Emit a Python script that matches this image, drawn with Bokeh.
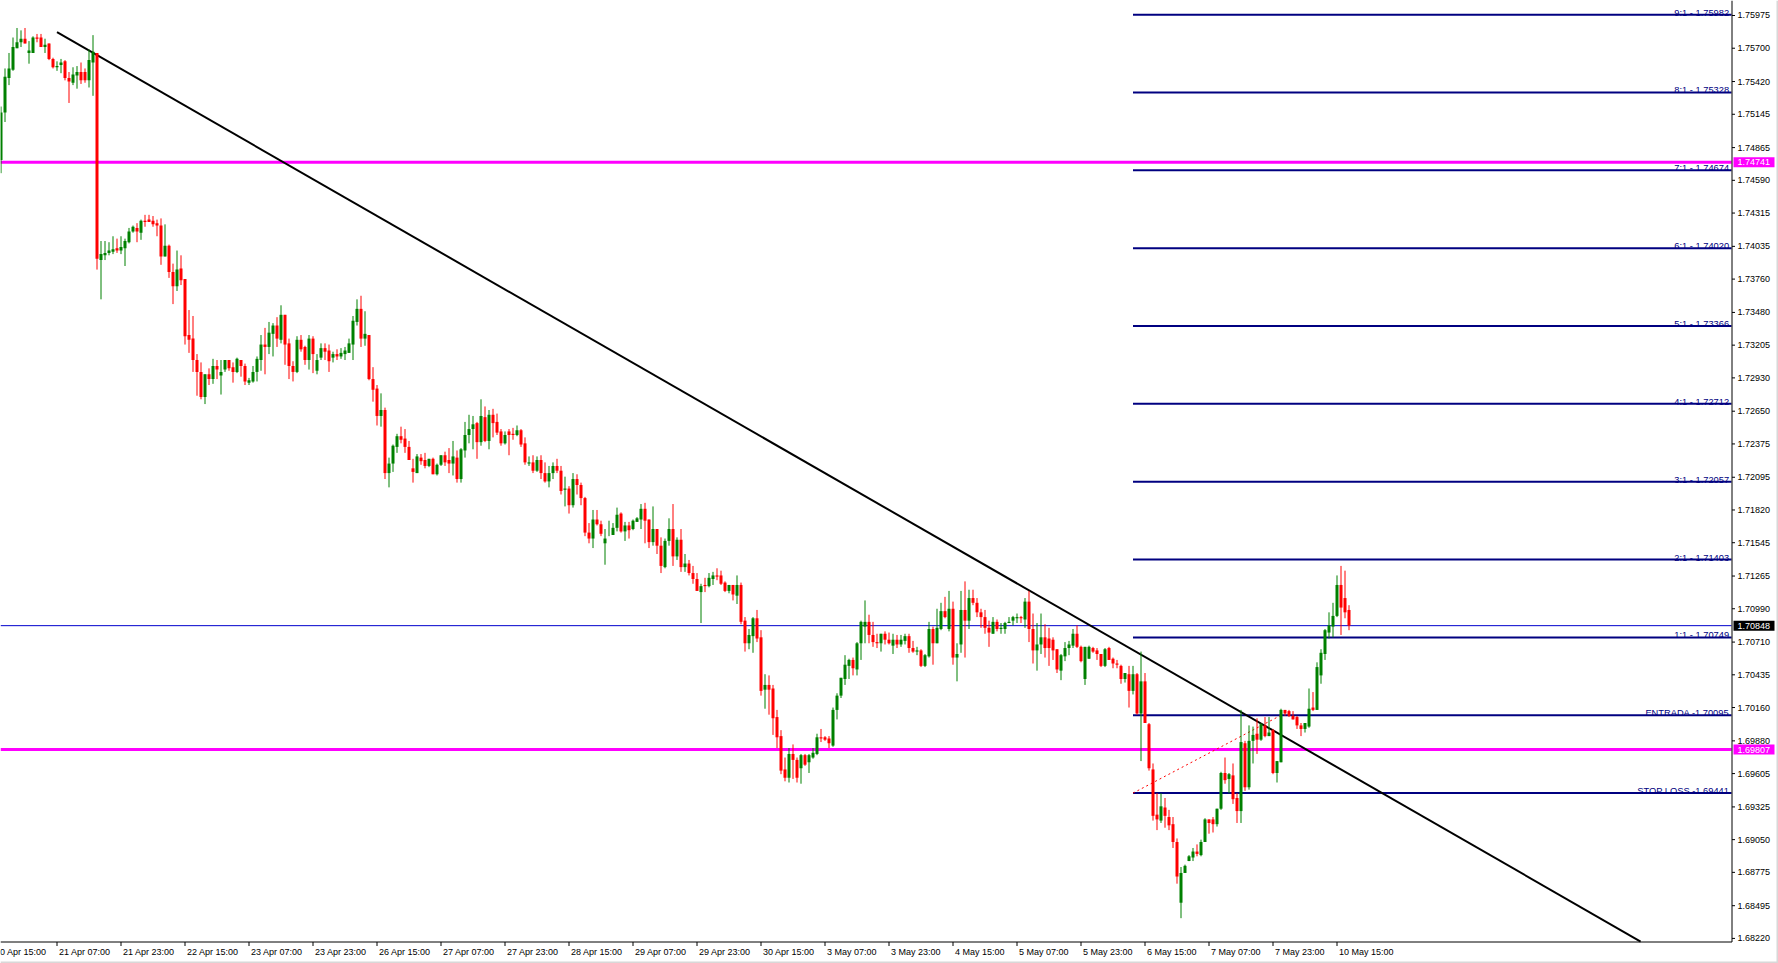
from bokeh.plotting import figure
from bokeh.models import Range1d, ColumnDataSource
from bokeh.embed import file_html
from bokeh.resources import INLINE
from bokeh.core.properties import value

# ---------------- data (H1 candles, first bar = 20 Apr 17:00) ----------------
opens = [
1.7476,1.7516,1.7545,1.7552,1.7570,1.7575,1.7578,1.7566,1.7566,1.7579,
1.7579,1.7571,1.7574,1.7561,1.7554,1.7556,1.7559,1.7545,1.7541,1.7547,
1.7550,1.7550,1.7543,1.7558,1.7566,1.7392,1.7396,1.7398,1.7399,1.7402,
1.7400,1.7402,1.7407,1.7416,1.7419,1.7415,1.7425,1.7426,1.7425,1.7423,
1.7421,1.7395,1.7404,1.7382,1.7370,1.7385,1.7376,1.7329,1.7326,1.7308,
1.7298,1.7277,1.7296,1.7292,1.7303,1.7295,1.7300,1.7308,1.7302,1.7298,
1.7308,1.7303,1.7289,1.7290,1.7298,1.7308,1.7321,1.7319,1.7330,1.7337,
1.7325,1.7346,1.7322,1.7303,1.7298,1.7325,1.7319,1.7308,1.7326,1.7299,
1.7310,1.7318,1.7316,1.7310,1.7313,1.7311,1.7313,1.7314,1.7321,1.7340,
1.7351,1.7326,1.7329,1.7292,1.7284,1.7261,1.7266,1.7213,1.7221,1.7235,
1.7244,1.7242,1.7235,1.7217,1.7213,1.7226,1.7224,1.7219,1.7225,1.7212,
1.7220,1.7228,1.7224,1.7221,1.7226,1.7208,1.7232,1.7245,1.7250,1.7255,
1.7239,1.7260,1.7240,1.7262,1.7256,1.7248,1.7238,1.7248,1.7246,1.7245,
1.7249,1.7238,1.7221,1.7222,1.7215,1.7224,1.7213,1.7206,1.7213,1.7219,
1.7215,1.7199,1.7200,1.7186,1.7208,1.7203,1.7192,1.7163,1.7158,1.7174,
1.7170,1.7154,1.7161,1.7161,1.7167,1.7179,1.7164,1.7169,1.7166,1.7172,
1.7174,1.7183,1.7174,1.7155,1.7166,1.7152,1.7134,1.7156,1.7166,1.7143,
1.7157,1.7134,1.7137,1.7129,1.7124,1.7113,1.7119,1.7118,1.7124,1.7127,
1.7127,1.7121,1.7114,1.7119,1.7110,1.7119,1.7089,1.7070,1.7076,1.7091,
1.7075,1.7031,1.7035,1.7032,1.7008,1.6992,1.6964,1.6957,1.6977,1.6972,
1.6965,1.6976,1.6970,1.6974,1.6977,1.6991,1.6991,1.6990,1.6984,1.7014,
1.7026,1.7040,1.7051,1.7056,1.7048,1.7070,1.7084,1.7088,1.7077,1.7071,
1.7070,1.7078,1.7073,1.7068,1.7073,1.7069,1.7072,1.7076,1.7066,1.7063,
1.7064,1.7051,1.7059,1.7082,1.7070,1.7082,1.7097,1.7082,1.7099,1.7058,
1.7069,1.7098,1.7089,1.7108,1.7104,1.7096,1.7092,1.7083,1.7078,1.7088,
1.7082,1.7082,1.7087,1.7089,1.7091,1.7092,1.7090,1.7105,1.7082,1.7064,
1.7069,1.7075,1.7074,1.7073,1.7065,1.7047,1.7059,1.7066,1.7068,1.7078,
1.7067,1.7040,1.7057,1.7066,1.7064,1.7061,1.7051,1.7066,1.7057,1.7053,
1.7051,1.7040,1.7044,1.7030,1.7044,1.7011,1.7038,1.7002,1.6964,1.6926,
1.6921,1.6932,1.6924,1.6918,1.6903,1.6852,1.6877,1.6887,1.6890,1.6895,
1.6892,1.6903,1.6922,1.6922,1.6918,1.6931,1.6961,1.6956,1.6959,1.6940,
1.6929,1.6986,1.6949,1.6988,1.6994,1.6989,1.7001,1.6992,1.6997,1.6961,
1.6970,1.7014,1.7013,1.7009,1.7008,1.7001,1.6998,1.7000,1.7016,1.7014,
1.7043,1.7061,1.7079,1.7084,1.7093,1.7119,1.7108,1.7098]

highs = [
1.7521,1.7553,1.7566,1.7579,1.7587,1.7585,1.7587,1.7576,1.7580,1.7582,
1.7582,1.7578,1.7574,1.7562,1.7559,1.7561,1.7560,1.7550,1.7554,1.7555,
1.7558,1.7553,1.7569,1.7581,1.7566,1.7408,1.7408,1.7407,1.7412,1.7410,
1.7412,1.7410,1.7419,1.7421,1.7423,1.7426,1.7430,1.7430,1.7429,1.7426,
1.7427,1.7422,1.7405,1.7389,1.7400,1.7396,1.7376,1.7350,1.7345,1.7313,
1.7306,1.7296,1.7301,1.7309,1.7308,1.7308,1.7308,1.7308,1.7306,1.7310,
1.7308,1.7305,1.7293,1.7303,1.7311,1.7329,1.7335,1.7340,1.7339,1.7344,
1.7354,1.7346,1.7326,1.7307,1.7328,1.7329,1.7320,1.7329,1.7328,1.7313,
1.7322,1.7322,1.7321,1.7315,1.7317,1.7318,1.7319,1.7326,1.7345,1.7359,
1.7362,1.7349,1.7329,1.7302,1.7287,1.7280,1.7268,1.7226,1.7237,1.7246,
1.7252,1.7250,1.7240,1.7225,1.7229,1.7229,1.7230,1.7225,1.7226,1.7221,
1.7228,1.7231,1.7234,1.7240,1.7232,1.7234,1.7256,1.7262,1.7261,1.7256,
1.7275,1.7269,1.7266,1.7267,1.7263,1.7250,1.7248,1.7250,1.7251,1.7253,
1.7250,1.7243,1.7227,1.7228,1.7227,1.7228,1.7222,1.7219,1.7222,1.7225,
1.7219,1.7210,1.7202,1.7213,1.7212,1.7205,1.7193,1.7171,1.7182,1.7182,
1.7173,1.7166,1.7173,1.7171,1.7184,1.7180,1.7172,1.7172,1.7174,1.7176,
1.7187,1.7188,1.7174,1.7185,1.7166,1.7159,1.7158,1.7175,1.7187,1.7159,
1.7166,1.7145,1.7140,1.7135,1.7129,1.7120,1.7125,1.7129,1.7130,1.7133,
1.7131,1.7122,1.7119,1.7119,1.7127,1.7121,1.7092,1.7082,1.7092,1.7098,
1.7081,1.7044,1.7043,1.7035,1.7014,1.6997,1.6974,1.6982,1.6985,1.6974,
1.6977,1.6977,1.6977,1.6982,1.6994,1.6998,1.6992,1.6992,1.7016,1.7028,
1.7041,1.7060,1.7057,1.7058,1.7071,1.7089,1.7106,1.7094,1.7088,1.7078,
1.7078,1.7080,1.7079,1.7078,1.7077,1.7077,1.7078,1.7078,1.7072,1.7067,
1.7065,1.7061,1.7088,1.7084,1.7099,1.7104,1.7109,1.7114,1.7105,1.7070,
1.7114,1.7122,1.7115,1.7115,1.7108,1.7099,1.7098,1.7089,1.7092,1.7090,
1.7087,1.7088,1.7092,1.7093,1.7095,1.7093,1.7108,1.7114,1.7095,1.7087,
1.7095,1.7086,1.7083,1.7075,1.7065,1.7061,1.7071,1.7072,1.7082,1.7085,
1.7068,1.7067,1.7068,1.7067,1.7066,1.7061,1.7066,1.7067,1.7058,1.7056,
1.7052,1.7045,1.7051,1.7051,1.7045,1.7063,1.7045,1.7003,1.6969,1.6944,
1.6944,1.6940,1.6930,1.6924,1.6906,1.6882,1.6884,1.6892,1.6898,1.6901,
1.6905,1.6923,1.6922,1.6924,1.6931,1.6962,1.6974,1.6961,1.6969,1.6944,
1.7014,1.6988,1.7001,1.7000,1.7007,1.7003,1.7008,1.7008,1.6998,1.6971,
1.7015,1.7014,1.7014,1.7013,1.7009,1.7003,1.7003,1.7032,1.7029,1.7054,
1.7065,1.7082,1.7096,1.7104,1.7127,1.7135,1.7131,1.7102]

lows = [
1.7465,1.7508,1.7539,1.7551,1.7570,1.7571,1.7574,1.7557,1.7566,1.7575,
1.7571,1.7566,1.7560,1.7553,1.7551,1.7549,1.7543,1.7524,1.7539,1.7536,
1.7540,1.7541,1.7537,1.7530,1.7384,1.7359,1.7392,1.7396,1.7397,1.7398,
1.7397,1.7387,1.7406,1.7415,1.7407,1.7409,1.7420,1.7424,1.7420,1.7412,
1.7388,1.7395,1.7377,1.7355,1.7366,1.7371,1.7321,1.7314,1.7298,1.7278,
1.7275,1.7271,1.7287,1.7288,1.7292,1.7279,1.7298,1.7299,1.7289,1.7297,
1.7294,1.7287,1.7287,1.7289,1.7290,1.7299,1.7296,1.7313,1.7311,1.7319,
1.7322,1.7304,1.7292,1.7290,1.7297,1.7315,1.7304,1.7300,1.7297,1.7296,
1.7308,1.7308,1.7298,1.7306,1.7308,1.7309,1.7308,1.7314,1.7308,1.7337,
1.7319,1.7320,1.7291,1.7273,1.7253,1.7252,1.7208,1.7201,1.7214,1.7230,
1.7238,1.7230,1.7224,1.7205,1.7213,1.7220,1.7217,1.7218,1.7212,1.7211,
1.7219,1.7219,1.7213,1.7211,1.7205,1.7205,1.7226,1.7238,1.7233,1.7225,
1.7236,1.7239,1.7233,1.7243,1.7245,1.7236,1.7237,1.7228,1.7241,1.7244,
1.7235,1.7220,1.7219,1.7213,1.7214,1.7208,1.7205,1.7201,1.7208,1.7213,
1.7195,1.7185,1.7179,1.7184,1.7195,1.7186,1.7160,1.7154,1.7150,1.7169,
1.7160,1.7136,1.7160,1.7161,1.7164,1.7163,1.7156,1.7158,1.7165,1.7172,
1.7166,1.7154,1.7150,1.7152,1.7145,1.7129,1.7133,1.7152,1.7135,1.7140,
1.7130,1.7130,1.7127,1.7120,1.7114,1.7087,1.7113,1.7117,1.7119,1.7123,
1.7119,1.7113,1.7112,1.7106,1.7103,1.7086,1.7063,1.7065,1.7062,1.7071,
1.7026,1.7015,1.7010,1.6993,1.6982,1.6960,1.6954,1.6953,1.6956,1.6953,
1.6952,1.6967,1.6961,1.6973,1.6976,1.6987,1.6988,1.6982,1.6983,1.7006,
1.7024,1.7035,1.7040,1.7043,1.7043,1.7056,1.7070,1.7070,1.7067,1.7066,
1.7063,1.7069,1.7069,1.7061,1.7066,1.7067,1.7069,1.7062,1.7062,1.7060,
1.7050,1.7050,1.7058,1.7052,1.7070,1.7081,1.7091,1.7080,1.7052,1.7038,
1.7062,1.7058,1.7082,1.7102,1.7092,1.7083,1.7078,1.7067,1.7078,1.7080,
1.7078,1.7078,1.7087,1.7085,1.7087,1.7087,1.7083,1.7071,1.7053,1.7047,
1.7061,1.7058,1.7051,1.7056,1.7045,1.7039,1.7055,1.7060,1.7066,1.7066,
1.7054,1.7035,1.7057,1.7062,1.7056,1.7050,1.7050,1.7056,1.7049,1.7049,
1.7036,1.7037,1.7016,1.7027,1.7010,1.6971,1.7003,1.6963,1.6921,1.6913,
1.6919,1.6915,1.6913,1.6898,1.6868,1.6839,1.6877,1.6887,1.6887,1.6891,
1.6891,1.6903,1.6910,1.6911,1.6916,1.6930,1.6952,1.6944,1.6935,1.6919,
1.6919,1.6946,1.6947,1.6969,1.6977,1.6988,1.6991,1.6992,1.6960,1.6953,
1.6970,1.7009,1.7008,1.7006,1.6998,1.6992,1.6995,1.6999,1.7013,1.7014,
1.7036,1.7056,1.7074,1.7075,1.7092,1.7077,1.7091,1.7081]

closes = [
1.7516,1.7546,1.7553,1.7571,1.7575,1.7578,1.7574,1.7568,1.7579,1.7578,
1.7571,1.7573,1.7561,1.7554,1.7555,1.7558,1.7545,1.7542,1.7548,1.7550,
1.7543,1.7543,1.7560,1.7567,1.7393,1.7397,1.7398,1.7400,1.7401,1.7400,
1.7403,1.7408,1.7416,1.7420,1.7416,1.7425,1.7424,1.7424,1.7422,1.7421,
1.7395,1.7404,1.7382,1.7370,1.7384,1.7375,1.7328,1.7325,1.7308,1.7298,
1.7277,1.7296,1.7292,1.7303,1.7300,1.7298,1.7308,1.7301,1.7298,1.7309,
1.7303,1.7290,1.7291,1.7298,1.7309,1.7321,1.7319,1.7331,1.7337,1.7326,
1.7346,1.7321,1.7303,1.7298,1.7325,1.7317,1.7308,1.7326,1.7313,1.7308,
1.7318,1.7315,1.7307,1.7313,1.7311,1.7314,1.7316,1.7322,1.7341,1.7351,
1.7326,1.7330,1.7292,1.7283,1.7261,1.7266,1.7213,1.7221,1.7236,1.7244,
1.7241,1.7235,1.7224,1.7214,1.7227,1.7223,1.7219,1.7225,1.7212,1.7220,
1.7228,1.7222,1.7221,1.7227,1.7208,1.7233,1.7245,1.7250,1.7254,1.7239,
1.7261,1.7240,1.7262,1.7255,1.7247,1.7238,1.7245,1.7245,1.7245,1.7249,
1.7237,1.7222,1.7222,1.7215,1.7224,1.7213,1.7206,1.7213,1.7219,1.7215,
1.7198,1.7200,1.7186,1.7208,1.7203,1.7192,1.7163,1.7158,1.7174,1.7170,
1.7162,1.7158,1.7161,1.7167,1.7178,1.7164,1.7169,1.7165,1.7173,1.7175,
1.7183,1.7173,1.7155,1.7166,1.7152,1.7135,1.7156,1.7166,1.7143,1.7157,
1.7134,1.7137,1.7129,1.7124,1.7114,1.7118,1.7118,1.7125,1.7127,1.7126,
1.7120,1.7114,1.7119,1.7111,1.7119,1.7088,1.7070,1.7077,1.7091,1.7074,
1.7030,1.7035,1.7031,1.7007,1.6991,1.6963,1.6957,1.6977,1.6972,1.6957,
1.6976,1.6968,1.6976,1.6978,1.6991,1.6990,1.6989,1.6986,1.7014,1.7026,
1.7041,1.7052,1.7056,1.7049,1.7070,1.7088,1.7088,1.7077,1.7071,1.7070,
1.7078,1.7073,1.7070,1.7073,1.7069,1.7073,1.7076,1.7066,1.7063,1.7064,
1.7051,1.7060,1.7082,1.7070,1.7083,1.7097,1.7092,1.7099,1.7058,1.7061,
1.7098,1.7089,1.7108,1.7104,1.7096,1.7092,1.7083,1.7079,1.7088,1.7082,
1.7083,1.7087,1.7088,1.7092,1.7092,1.7091,1.7105,1.7082,1.7064,1.7069,
1.7075,1.7066,1.7066,1.7064,1.7048,1.7060,1.7066,1.7069,1.7078,1.7067,
1.7055,1.7067,1.7067,1.7063,1.7061,1.7051,1.7065,1.7056,1.7053,1.7052,
1.7040,1.7045,1.7030,1.7044,1.7011,1.7038,1.7003,1.6965,1.6925,1.6922,
1.6933,1.6925,1.6917,1.6903,1.6874,1.6877,1.6883,1.6891,1.6895,1.6893,
1.6903,1.6922,1.6919,1.6918,1.6931,1.6961,1.6955,1.6960,1.6939,1.6929,
1.6987,1.6949,1.6988,1.6993,1.6989,1.7002,1.6992,1.6995,1.6961,1.6971,
1.7014,1.7011,1.7009,1.7006,1.7001,1.6998,1.7003,1.7015,1.7014,1.7050,
1.7062,1.7081,1.7085,1.7093,1.7119,1.7100,1.7096,1.70848]

time_tick_index = [-2, 14, 30, 46, 62, 78, 94, 110, 126, 142, 158, 174, 190, 206, 222, 238, 254, 270, 286, 302, 318, 334]
time_tick_labels = ["20 Apr 15:00", "21 Apr 07:00", "21 Apr 23:00", "22 Apr 15:00", "23 Apr 07:00", "23 Apr 23:00",
                    "26 Apr 15:00", "27 Apr 07:00", "27 Apr 23:00", "28 Apr 15:00", "29 Apr 07:00", "29 Apr 23:00",
                    "30 Apr 15:00", "3 May 07:00", "3 May 23:00", "4 May 15:00", "5 May 07:00", "5 May 23:00",
                    "6 May 15:00", "7 May 07:00", "7 May 23:00", "10 May 15:00"]

price_ticks = [1.75975, 1.75700, 1.75420, 1.75145, 1.74865, 1.74590, 1.74315, 1.74035, 1.73760, 1.73480,
               1.73205, 1.72930, 1.72650, 1.72375, 1.72095, 1.71820, 1.71545, 1.71265, 1.70990, 1.70710,
               1.70435, 1.70160, 1.69880, 1.69605, 1.69325, 1.69050, 1.68775, 1.68495, 1.68220]

fib_names = ["9:1 - ", "8:1 - ", "7:1 - ", "6:1 - ", "5:1 - ", "4:1 - ", "3:1 - ", "2:1 - ", "1:1 - ", "ENTRADA -", "STOP LOSS -"]
fib_levels = [1.75982, 1.75328, 1.74674, 1.74020, 1.73366, 1.72712, 1.72057, 1.71403, 1.70749, 1.70095, 1.69441]
fib_start_index = 283

magenta_levels = [1.74741, 1.69807]
bid_price = 1.70848

trend_index = [14, 409.9]
trend_price = [1.75835, 1.68194]

fib_anchor_index = [283, 320]
fib_anchor_price = [1.69441, 1.70095]

# ---------------- geometry (whole canvas is the data frame; axes drawn by hand) ----------------
OFF = 0.125            # half-pixel snap for bar centres
PX_X = 0.25            # bars per pixel
PX_Y = 1.0 / 11901     # price per pixel
W, H = 1778, 963
X0, X1 = 0.0, W * PX_X
Y1 = 1.76101
Y0 = Y1 - H * PX_Y
CHART_RIGHT = 432.75     # price-axis line position (bars)
CHART_BOTTOM = 1.681941  # time-axis line position (price)
FONT = value("Liberation Sans")

p = figure(width=W, height=H, output_backend="svg", toolbar_location=None,
           x_range=Range1d(X0, X1), y_range=Range1d(Y0, Y1),
           x_axis_location=None, y_axis_location=None, min_border=0,
           background_fill_color="white", border_fill_color="white", outline_line_color=None)
p.grid.visible = False

# window border (light grey, right and bottom)
p.segment(x0=[X1 - 1 * PX_X], x1=[X1 - 1 * PX_X], y0=[Y0], y1=[Y1], line_color="#D8D8D8", line_width=2)
p.segment(x0=[X0], x1=[X1], y0=[Y0 + 1 * PX_Y], y1=[Y0 + 1 * PX_Y], line_color="#D8D8D8", line_width=2)

# horizontal lines
for lvl in magenta_levels:
    p.segment(x0=[X0], x1=[CHART_RIGHT], y0=[lvl], y1=[lvl], line_color="#FF00FF", line_width=3)
p.segment(x0=[X0], x1=[CHART_RIGHT], y0=[bid_price], y1=[bid_price], line_color="#0000CC", line_width=1)

# fibonacci expansion levels
nf = len(fib_levels)
p.segment(x0=[fib_start_index + OFF] * nf, x1=[CHART_RIGHT] * nf,
          y0=fib_levels, y1=fib_levels, line_color="#000080", line_width=2)
fib_texts = [n + "%.5f" % v for n, v in zip(fib_names, fib_levels)]
p.text(x=[CHART_RIGHT - 0.6] * nf, y=fib_levels, text=fib_texts,
       text_align="right", text_baseline="alphabetic", y_offset=-2,
       text_font=FONT, text_font_size="9.3px", text_color="#000080")

# fib anchor line (red dotted)
p.line([i + OFF for i in fib_anchor_index], fib_anchor_price, line_color="#FF0000",
       line_width=1, line_dash="2 3")

# trend line
p.line([i + OFF for i in trend_index], trend_price, line_color="black", line_width=2)

# candles
xs = [i + OFF for i in range(len(closes))]
colors = ["#008000" if c >= o else "#FF0000" for o, c in zip(opens, closes)]
tops = [max(o, c) for o, c in zip(opens, closes)]
bots = [min(o, c) for o, c in zip(opens, closes)]
csrc = ColumnDataSource(dict(x=xs, high=highs, low=lows, top=tops, bottom=bots, color=colors))
p.segment(x0="x", y0="high", x1="x", y1="low", line_color="color", line_width=1, source=csrc)
p.vbar(x="x", width=0.75, top="top", bottom="bottom", fill_color="color", line_color=None, source=csrc)

# ---- price axis (right) ----
ax_x = CHART_RIGHT + OFF
ax_y = CHART_BOTTOM - 0.5 * PX_Y
p.segment(x0=[ax_x], x1=[ax_x], y0=[ax_y], y1=[Y1], line_color="black", line_width=1)
npt = len(price_ticks)
p.segment(x0=[ax_x] * npt, x1=[ax_x + 3 * PX_X] * npt, y0=price_ticks, y1=price_ticks,
          line_color="black", line_width=1)
p.text(x=[CHART_RIGHT + 6 * PX_X] * npt, y=price_ticks, text=["%.5f" % t for t in price_ticks],
       text_align="left", text_baseline="middle", text_font=FONT, text_font_size="9px", text_color="black")

# ---- time axis (bottom) ----
p.segment(x0=[X0], x1=[ax_x], y0=[ax_y], y1=[ax_y], line_color="black", line_width=1)
ntt = len(time_tick_index)
tx = [t + OFF for t in time_tick_index]
p.segment(x0=tx, x1=tx, y0=[ax_y] * ntt, y1=[ax_y - 4 * PX_Y] * ntt, line_color="black", line_width=1)
p.text(x=[t + 2 * PX_X for t in tx], y=[CHART_BOTTOM - 10 * PX_Y] * ntt, text=time_tick_labels,
       text_align="left", text_baseline="middle", text_font=FONT, text_font_size="9px", text_color="black")

# ---- price boxes on the axis ----
box_levels = [magenta_levels[0], magenta_levels[1], bid_price]
box_colors = ["#FF00FF", "#FF00FF", "black"]
p.quad(left=[CHART_RIGHT + 2 * PX_X] * 3, right=[CHART_RIGHT + 43 * PX_X] * 3,
       top=[v + 5 * PX_Y for v in box_levels], bottom=[v - 5 * PX_Y for v in box_levels],
       fill_color=box_colors, line_color=None)
p.text(x=[CHART_RIGHT + 6 * PX_X] * 3, y=box_levels, text=["%.5f" % v for v in box_levels],
       text_align="left", text_baseline="middle", text_font=FONT, text_font_size="9px", text_color="white")

open("out.html", "w").write(file_html(p, INLINE))
